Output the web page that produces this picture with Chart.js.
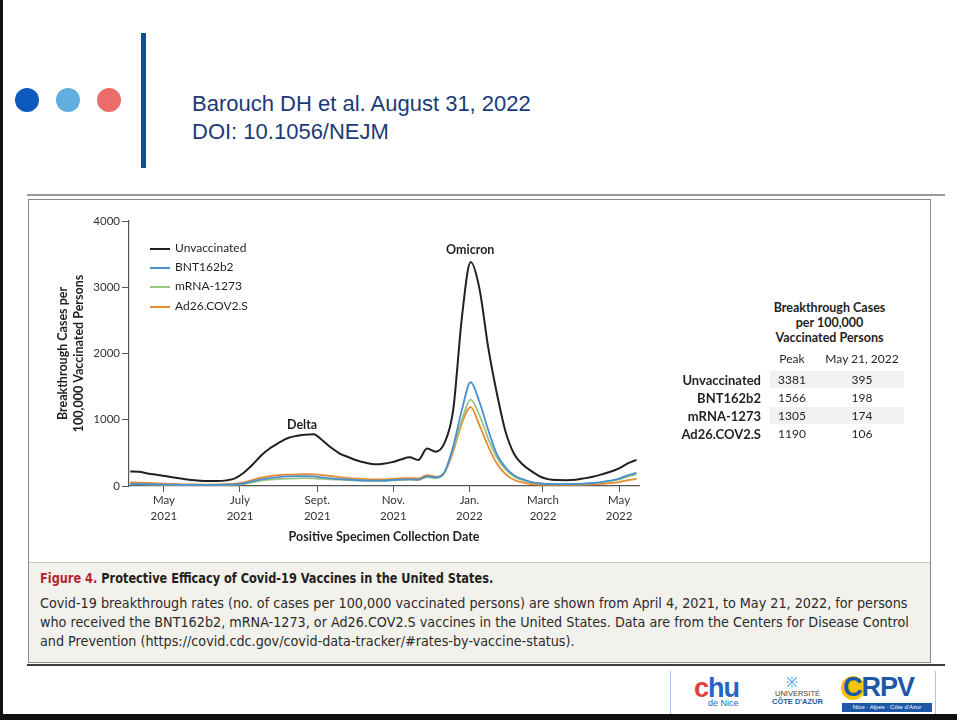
<!DOCTYPE html>
<html>
<head>
<meta charset="utf-8">
<script src="https://cdn.jsdelivr.net/npm/chart.js@4.4.0/dist/chart.umd.min.js"></script>
<style>
body { margin:0; width:957px; height:720px; position:relative; overflow:hidden; background:#fff; font-family:'Liberation Sans', Arial, sans-serif; }
.a { position:absolute; white-space:nowrap; }
.dot { position:absolute; width:24px; height:24px; border-radius:50%; top:88px; }
.fig { font-family:Lato, 'Open Sans', sans-serif; color:#231f20; }
.leg { position:absolute; left:150px; font-size:12px; }
.leg i { display:inline-block; width:20px; height:2px; vertical-align:middle; margin-right:5px; }
.cap { font-family:'Liberation Sans Narrow', 'DejaVu Sans Condensed', sans-serif; transform-origin:0 0; }
</style>
</head>
<body>
<!-- slide frame -->
<div class="a" style="left:0;top:0;width:3px;height:720px;background:#111"></div>
<div class="a" style="left:0;top:714px;width:957px;height:6px;background:#111"></div>

<!-- header -->
<div class="dot" style="left:15px;background:#0a5bbd"></div>
<div class="dot" style="left:56px;background:#62aee0"></div>
<div class="dot" style="left:97px;background:#ec6b6b"></div>
<div class="a" style="left:141px;top:33px;width:5px;height:135px;background:#0a4fa3"></div>
<div class="a" style="left:192px;top:90px;font-size:22px;line-height:28px;color:#1b3a78">Barouch DH et al. August 31, 2022<br>DOI: 10.1056/NEJM</div>

<!-- figure frame -->
<div class="a" style="left:27px;top:194px;width:918px;height:2px;background:#9a9a9a"></div>
<div class="a" style="left:28px;top:199px;width:901px;height:462px;border:1px solid #8a8a8a"></div>
<div class="a" style="left:29px;top:562px;width:901px;height:99px;background:#f3f1ec;border-top:1px solid #cfcac0"></div>
<div class="a" style="left:27px;top:664px;width:918px;height:2px;background:#3a3a3a"></div>

<canvas id="c" width="620" height="341" style="position:absolute;left:30px;top:205px"></canvas>

<!-- legend -->
<div class="fig">
  <div class="leg" style="top:240px"><i style="background:#231f20"></i>Unvaccinated</div>
  <div class="leg" style="top:259px"><i style="background:#4a8fcf"></i>BNT162b2</div>
  <div class="leg" style="top:278px"><i style="background:#98c47e"></i>mRNA-1273</div>
  <div class="leg" style="top:298px"><i style="background:#e88a2e"></i>Ad26.COV2.S</div>
  <div class="a" style="left:287px;top:417px;font-size:12.5px;font-weight:bold">Delta</div>
  <div class="a" style="left:446px;top:242px;font-size:12.5px;font-weight:bold">Omicron</div>
</div>

<!-- side table -->
<div class="fig" id="tbl"></div>

<!-- caption -->
<div class="a cap" style="left:40px;top:570px;font-size:14.5px;font-weight:bold;color:#231f20;transform:scaleX(0.87)"><span style="color:#b3262f">Figure 4.</span> Protective Efficacy of Covid-19 Vaccines in the United States.</div>
<div class="a cap" style="left:40px;top:594px;font-size:14.5px;line-height:19px;color:#2b2b2b;transform:scaleX(0.98)">Covid-19 breakthrough rates (no. of cases per 100,000 vaccinated persons) are shown from April 4, 2021, to May 21, 2022, for persons<br>who received the BNT162b2, mRNA-1273, or Ad26.COV2.S vaccines in the United States. Data are from the Centers for Disease Control<br>and Prevention (https://covid.cdc.gov/covid-data-tracker/#rates-by-vaccine-status).</div>

<!-- logos -->
<div class="a" style="left:670px;top:671px;width:264px;height:43px;border-left:1px solid #a9c8e8;border-right:1px solid #a9c8e8"></div>
<div class="a" style="left:694px;top:676px;font-size:27px;font-weight:bold;line-height:24px;letter-spacing:-1px"><span style="color:#e2403a">c</span><span style="color:#1f67c0">hu</span></div>
<div class="a" style="left:708px;top:698px;font-size:9px;color:#1f67c0">de Nice</div>
<div class="a" style="left:786px;top:672px;font-size:14px;color:#4a9be0">&#8251;</div>
<div class="a" style="left:772px;top:690px;font-size:7.5px;line-height:8px;color:#444;text-align:center">UNIVERSITÉ<br><b style="color:#1f5a9e">CÔTE D'AZUR</b></div>
<div class="a" style="left:841px;top:676px;width:24px;height:24px;border-radius:50%;background:#f5c400"></div>
<div class="a" style="left:843px;top:672px;font-size:27px;font-weight:bold;color:#1d58a8;letter-spacing:-1px">CRPV</div>
<div class="a" style="left:842px;top:703px;width:90px;height:9px;background:#1d58a8;color:#fff;font-size:6px;line-height:9px;text-align:center">Nice · Alpes · Côte d'Azur</div>

<script>
// weeks start Sunday April 4, 2021; last week May 15-21, 2022
const firstWeek = '2021-04-04';
const weekCount = 59;

const unvaccinated = [220, 215, 190, 170, 150, 130, 110, 90, 80, 75, 75, 85,
  116, 200, 320, 460, 570, 650, 720, 755, 775, 780, 690, 580,
  490, 435, 385, 350, 327, 335, 360, 400, 433, 392, 565, 518,
  650, 1150, 2550, 3381, 2983, 2100, 1400, 820, 480, 320, 220, 140,
  100, 90, 88, 95, 115, 140, 175, 215, 267, 340, 395];
const bnt162b2 = [30, 30, 28, 25, 22, 20, 18, 17, 16, 16, 17, 20,
  25, 40, 70, 100, 120, 135, 145, 150, 150, 145, 130, 115,
  105, 95, 88, 82, 80, 82, 88, 95, 100, 95, 145, 130,
  210, 600, 1150, 1566, 1272, 850, 480, 280, 160, 100, 60, 40,
  30, 28, 28, 30, 35, 45, 60, 80, 110, 160, 198];
const mrna1273 = [25, 25, 22, 20, 18, 16, 15, 14, 13, 13, 14, 16,
  20, 30, 55, 80, 95, 105, 112, 116, 118, 115, 108, 100,
  95, 88, 82, 78, 76, 78, 84, 90, 95, 90, 135, 120,
  200, 560, 1000, 1305, 1071, 720, 430, 250, 140, 85, 55, 38,
  30, 27, 27, 29, 33, 42, 55, 72, 100, 140, 174];
const ad26 = [55, 50, 45, 40, 35, 30, 26, 24, 22, 22, 24, 28,
  35, 55, 90, 125, 150, 165, 172, 176, 178, 175, 165, 150,
  135, 120, 110, 102, 98, 100, 108, 115, 120, 115, 165, 140,
  200, 520, 950, 1190, 920, 600, 340, 180, 90, 50, 30, 22,
  18, 16, 16, 17, 20, 25, 32, 42, 60, 90, 106];

const tickDates = ['2021-05-01', '2021-07-01', '2021-09-01', '2021-11-01', '2022-01-01', '2022-03-01', '2022-05-01'];
const tickLabels = [['May', '2021'], ['July', '2021'], ['Sept.', '2021'], ['Nov.', '2021'], ['Jan.', '2022'], ['March', '2022'], ['May', '2022']];
const yTicks = [0, 1000, 2000, 3000, 4000];

const tableRows = ['Unvaccinated', 'BNT162b2', 'mRNA-1273', 'Ad26.COV2.S'];
const tablePeak = [3381, 1566, 1305, 1190];
const tableMay21 = [395, 198, 174, 106];

const DAY = 86400000;
const t0 = Date.parse(firstWeek);
function dayOf(d) { return Math.round((Date.parse(d) - t0) / DAY); }
const weekDays = [];
for (let i = 0; i < weekCount; i++) weekDays.push(i * 7);
const tickDays = tickDates.map(dayOf);

function pts(vals) { return vals.map((v, i) => ({ x: weekDays[i], y: v })); }

function line(label, vals, color, w) {
  return {
    label: label, data: pts(vals), borderColor: color, backgroundColor: color,
    borderWidth: w, pointRadius: 0, cubicInterpolationMode: 'monotone', fill: false
  };
}

const axisColor = '#555';
new Chart(document.getElementById('c'), {
  type: 'line',
  data: {
    datasets: [
      line('Unvaccinated', unvaccinated, '#231f20', 2),
      line('BNT162b2', bnt162b2, '#4a8fcf', 1.8),
      line('mRNA-1273', mrna1273, '#98c47e', 1.8),
      line('Ad26.COV2.S', ad26, '#e88a2e', 1.8)
    ]
  },
  options: {
    responsive: false,
    animation: false,
    layout: { padding: { top: 16, right: 11, left: 0, bottom: 0 } },
    plugins: { legend: { display: false }, tooltip: { enabled: false } },
    scales: {
      x: {
        type: 'linear', min: -1, max: 408,
        afterBuildTicks: s => { s.ticks = tickDays.map(v => ({ value: v })); },
        afterFit: s => { s.height = 60; },
        grid: { drawOnChartArea: false, drawTicks: true, tickLength: 6, color: axisColor },
        border: { color: axisColor, width: 1.2 },
        ticks: {
          autoSkip: false, maxRotation: 0, padding: 1, color: '#333',
          font: { family: 'Lato', size: 11.5, lineHeight: 1.35 },
          callback: v => tickLabels[tickDays.indexOf(v)] || ''
        },
        title: {
          display: true, text: 'Positive Specimen Collection Date', color: '#231f20',
          font: { family: 'Lato', size: 12.5, weight: 'bold' }, padding: { top: 0, bottom: 2 }
        }
      },
      y: {
        min: 0, max: 4000,
        afterBuildTicks: s => { s.ticks = yTicks.map(v => ({ value: v })); },
        afterFit: s => { s.width = 99; },
        grid: { drawOnChartArea: false, drawTicks: true, tickLength: 7, color: axisColor },
        border: { color: axisColor, width: 1.2 },
        ticks: { padding: 2, color: '#333', font: { family: 'Lato', size: 11.5 }, callback: v => String(v) },
        title: {
          display: true, text: ['Breakthrough Cases per', '100,000 Vaccinated Persons'], color: '#231f20',
          font: { family: 'Lato', size: 12.5, weight: 'bold', lineHeight: 1.3 }, padding: { top: 25, bottom: 0 }
        }
      }
    }
  }
});

// side table
const tbl = document.getElementById('tbl');
let html = '<div class="a" style="left:757px;top:300px;width:145px;text-align:center;font-size:12.5px;font-weight:bold;line-height:15px">Breakthrough Cases<br>per 100,000<br>Vaccinated Persons</div>';
html += '<div class="a" style="left:772px;top:351px;width:40px;text-align:center;font-size:12px">Peak</div>';
html += '<div class="a" style="left:820px;top:351px;width:84px;text-align:center;font-size:12px">May 21, 2022</div>';
const rowTop = [372, 390, 408, 426];
for (let i = 0; i < tableRows.length; i++) {
  if (i % 2 === 0) html += '<div class="a" style="left:770px;top:' + (rowTop[i] - 1) + 'px;width:134px;height:17px;background:#f1f1f1"></div>';
  html += '<div class="a" style="left:640px;top:' + rowTop[i] + 'px;width:121px;text-align:right;font-size:13px;font-weight:bold">' + tableRows[i] + '</div>';
  html += '<div class="a" style="left:772px;top:' + rowTop[i] + 'px;width:40px;text-align:center;font-size:12px">' + tablePeak[i] + '</div>';
  html += '<div class="a" style="left:820px;top:' + rowTop[i] + 'px;width:84px;text-align:center;font-size:12px">' + tableMay21[i] + '</div>';
}
tbl.innerHTML = html;
</script>
</body>
</html>
